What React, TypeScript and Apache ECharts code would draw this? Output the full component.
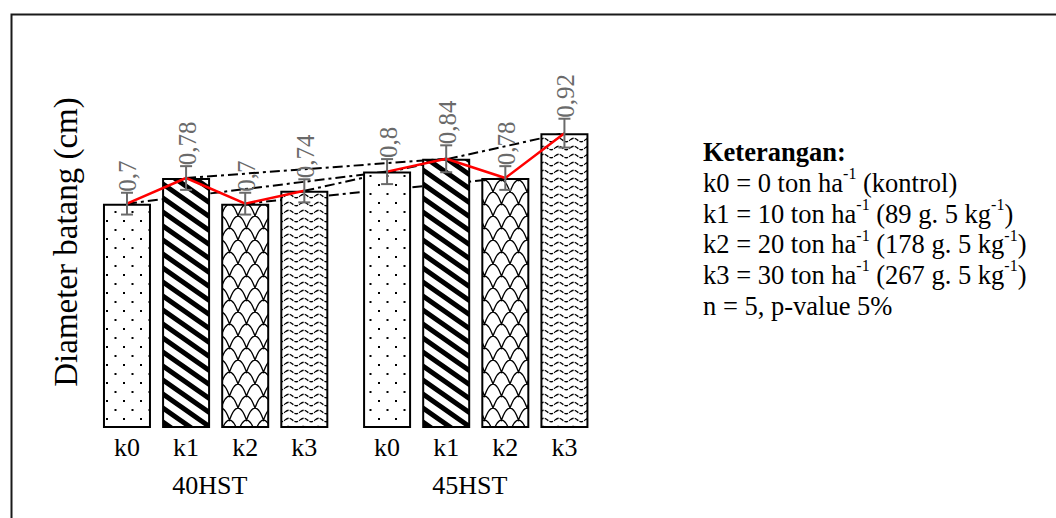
import React, { useEffect, useRef } from "react";
import * as echarts from "echarts";

// ---- data ----
const treatments = ["k0", "k1", "k2", "k3"];
const groups = ["40HST", "45HST"];
const values40 = [0.7, 0.78, 0.7, 0.74];
const values45 = [0.8, 0.84, 0.78, 0.92];
const errors40 = [0.034, 0.037, 0.034, 0.036];
const errors45 = [0.039, 0.042, 0.037, 0.045];
const yTitle = "Diameter batang (cm)";
const legendTitle = "Keterangan:";
// even index = normal text, odd index = superscript
const legendLines = [
  ["k0 = 0 ton ha", "-1", " (kontrol)"],
  ["k1 = 10 ton ha", "-1", " (89 g. 5 kg", "-1", ")"],
  ["k2 = 20 ton ha", "-1", " (178 g. 5 kg", "-1", ")"],
  ["k3 = 30 ton ha", "-1", " (267 g. 5 kg", "-1", ")"],
  ["n = 5, p-value 5%"],
];

// ---- layout (slot positions on the x value axis) ----
const slotPositions = [0, 1, 2, 3, 4.4, 5.4, 6.4, 7.4];
const groupLabelPositions = [1.4, 5.8];

const FONT = "'Liberation Serif', 'Times New Roman', serif";

function svgPattern(w: number, h: number, body: string) {
  const svg = `<svg xmlns="http://www.w3.org/2000/svg" width="${w}" height="${h}" viewBox="0 0 ${w} ${h}"><rect width="${w}" height="${h}" fill="#ffffff"/>${body}</svg>`;
  return {
    image: "data:image/svg+xml;charset=utf-8," + encodeURIComponent(svg),
    repeat: "repeat",
    imageWidth: w,
    imageHeight: h,
  };
}

const patterns = [
  svgPattern(17, 18, '<rect x="4" y="4" width="2" height="2" fill="#000"/><rect x="12.5" y="13" width="2" height="2" fill="#000"/>'),
  svgPattern(20, 14, '<path d="M-4,-2.8 L24,16.8 M-4,11.2 L24,30.8 M-4,-16.8 L24,2.8" stroke="#000" stroke-width="5" fill="none"/>'),
  svgPattern(17, 24, '<path d="M0,24 Q8.5,0 17,24 M-8.5,12 Q0,-12 8.5,12 Q17,-12 25.5,12" fill="none" stroke="#000" stroke-width="1.3"/>'),
  svgPattern(15, 8, '<path d="M0,4 Q3.75,0.5 7.5,4 T15,4" fill="none" stroke="#000" stroke-width="1.3" stroke-dasharray="4 1.2"/>'),
];

export default function App() {
  const ref = useRef<HTMLDivElement>(null);
  useEffect(() => {
    if (!ref.current) return;
    const chart = echarts.init(ref.current, null, { renderer: "svg" });
    const allValues = [...values40, ...values45];
    const allErrors = [...errors40, ...errors45];
    const labelAt = (v: number) => {
      const i = slotPositions.findIndex((p) => Math.abs(p - v) < 1e-6);
      return i >= 0 ? treatments[i % 4] : "";
    };
    const groupAt = (v: number) => {
      const i = groupLabelPositions.findIndex((p) => Math.abs(p - v) < 1e-6);
      return i >= 0 ? groups[i] : "";
    };

    const legendText =
      `{b|${legendTitle}}\n` +
      legendLines
        .map((segs) => segs.map((s, i) => (i % 2 === 0 ? `{n|${s}}` : `{s|${s}}`)).join(""))
        .join("\n");

    const dashSeries = treatments.map((t, i) => ({
      type: "line",
      name: "trend-" + t,
      xAxisIndex: 0,
      z: 1,
      symbol: "none",
      silent: true,
      lineStyle: { color: "#000", width: 2, type: [10, 4, 3, 4] },
      data: [
        [slotPositions[i], values40[i]],
        [slotPositions[i + 4], values45[i]],
      ],
    }));

    const redSeries = groups.map((g, gi) => ({
      type: "line",
      name: "mean-" + g,
      xAxisIndex: 0,
      z: 3,
      symbol: "none",
      silent: true,
      lineStyle: { color: "#ff0000", width: 2.5 },
      data: (gi === 0 ? values40 : values45).map((v, i) => [slotPositions[gi * 4 + i], v]),
    }));

    chart.setOption({
      animation: false,
      backgroundColor: "#ffffff",
      grid: { left: 91.5, width: 508.4, top: 107.5, height: 320.5 },
      xAxis: [
        {
          type: "value",
          min: -0.6,
          max: 8,
          axisLine: { show: false },
          axisTick: { show: false },
          splitLine: { show: false },
          axisLabel: {
            customValues: slotPositions,
            formatter: (v: number) => labelAt(v),
            fontFamily: FONT,
            fontSize: 26,
            color: "#000",
            margin: 6,
          },
        },
        {
          type: "value",
          position: "bottom",
          offset: 38,
          min: -0.6,
          max: 8,
          axisLine: { show: false },
          axisTick: { show: false },
          splitLine: { show: false },
          axisLabel: {
            customValues: groupLabelPositions,
            formatter: (v: number) => groupAt(v),
            fontFamily: FONT,
            fontSize: 26,
            color: "#000",
            margin: 6,
          },
        },
      ],
      yAxis: {
        type: "value",
        min: 0,
        max: 1,
        show: true,
        axisLine: { show: false },
        axisTick: { show: false },
        splitLine: { show: false },
        axisLabel: { show: false },
      },
      series: [
        ...dashSeries,
        {
          type: "bar",
          name: "diameter",
          xAxisIndex: 0,
          z: 2,
          barWidth: 48,
          silent: true,
          data: slotPositions.map((p, i) => ({
            value: [p, allValues[i]],
            itemStyle: { color: patterns[i % 4], borderColor: "#000", borderWidth: 2 },
          })),
        },
        ...redSeries,
        {
          type: "custom",
          name: "error",
          xAxisIndex: 0,
          z: 4,
          silent: true,
          data: slotPositions.map((p, i) => [p, allValues[i], allErrors[i]]),
          renderItem: (params: any, api: any) => {
            const x = api.value(0);
            const y = api.value(1);
            const e = api.value(2);
            const top = api.coord([x, y + e]);
            const bot = api.coord([x, y - e]);
            const half = 6;
            const stroke = { stroke: "#6a6a6a", lineWidth: 2 };
            return {
              type: "group",
              children: [
                { type: "line", shape: { x1: top[0], y1: top[1], x2: bot[0], y2: bot[1] }, style: stroke },
                { type: "line", shape: { x1: top[0] - half, y1: top[1], x2: top[0] + half, y2: top[1] }, style: stroke },
                { type: "line", shape: { x1: bot[0] - half, y1: bot[1], x2: bot[0] + half, y2: bot[1] }, style: stroke },
                {
                  type: "text",
                  x: top[0] + 1,
                  y: top[1] - 1,
                  rotation: Math.PI / 2,
                  style: {
                    text: String(y).replace(".", ","),
                    fill: "#6a6a6a",
                    fontSize: 25,
                    fontFamily: FONT,
                    align: "left",
                    verticalAlign: "middle",
                  },
                },
              ],
            };
          },
        },
      ],
      graphic: [
        {
          type: "rect",
          silent: true,
          shape: { x: 11.5, y: 14.5, width: 2000, height: 2000 },
          style: { fill: "none", stroke: "#1a1a1a", lineWidth: 2 },
        },
        {
          type: "text",
          silent: true,
          x: 66,
          y: 242,
          rotation: Math.PI / 2,
          style: {
            text: yTitle,
            fontFamily: FONT,
            fontSize: 33,
            fill: "#000",
            align: "center",
            verticalAlign: "middle",
          },
        },
        {
          type: "text",
          silent: true,
          x: 703,
          y: 135,
          style: {
            text: legendText,
            align: "left",
            verticalAlign: "top",
            rich: {
              b: { fontFamily: FONT, fontSize: 26.5, fontWeight: "bold", lineHeight: 30.7, verticalAlign: "bottom", fill: "#000" },
              n: { fontFamily: FONT, fontSize: 26.5, lineHeight: 30.7, verticalAlign: "bottom", fill: "#000" },
              s: { fontFamily: FONT, fontSize: 16, lineHeight: 21, verticalAlign: "top", fill: "#000" },
            },
          },
        },
      ],
    });
    return () => chart.dispose();
  }, []);
  return (
    <div
      ref={ref}
      style={{ position: "fixed", left: 0, top: 0, width: 1056, height: 518, background: "#fff" }}
    />
  );
}
